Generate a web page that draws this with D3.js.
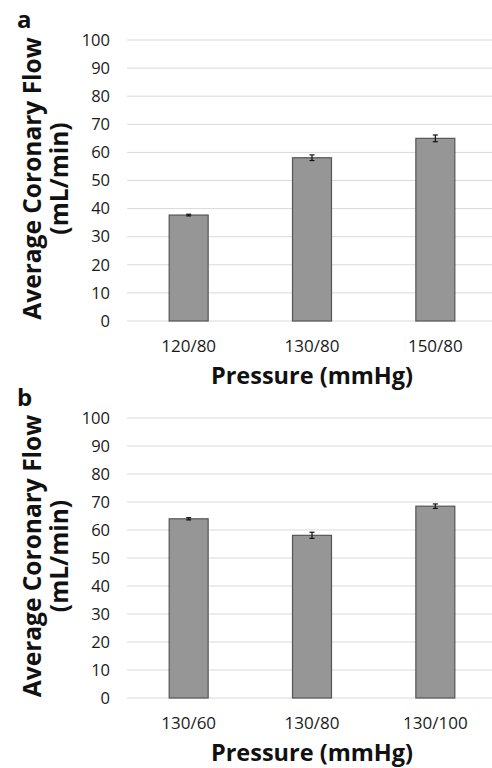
<!DOCTYPE html>
<html>
<head>
<meta charset="utf-8">
<script src="https://cdn.jsdelivr.net/npm/d3@7"></script>
<style>
  body { margin: 0; background: #fff; }
  svg { display: block; font-family: "Open Sans", sans-serif; }
</style>
</head>
<body>
<div id="canvas"></div>
<script>
// panel a
const catsA = ["120/80", "130/80", "150/80"];
const valsA = [37.7, 58.1, 65.0];
const errsA = [0.3, 1.0, 1.2];
// panel b
const catsB = ["130/60", "130/80", "130/100"];
const valsB = [64.0, 58.1, 68.5];
const errsB = [0.4, 1.1, 0.8];
const yTicks = [0, 10, 20, 30, 40, 50, 60, 70, 80, 90, 100];

const W = 492, H = 768;
const svg = d3.select("#canvas").append("svg")
  .attr("width", W)
  .attr("height", H);

function drawPanel(letter, cats, vals, errs, top, bottom) {
  const g = svg.append("g");

  const x = d3.scaleBand()
    .domain(cats)
    .range([127, 497])
    .paddingInner(0.684)
    .paddingOuter(0.342);

  const y = d3.scaleLinear()
    .domain([0, 100])
    .range([bottom, top]);

  // gridlines
  g.selectAll(".grid")
    .data(yTicks)
    .enter().append("line")
    .attr("x1", 127)
    .attr("x2", 497)
    .attr("y1", d => y(d))
    .attr("y2", d => y(d))
    .attr("stroke", "#d9d9d9")
    .attr("stroke-width", 1);

  // y tick labels
  g.selectAll(".ytick")
    .data(yTicks)
    .enter().append("text")
    .attr("x", 110)
    .attr("y", d => y(d))
    .attr("dy", "0.35em")
    .attr("text-anchor", "end")
    .style("font-size", "16.5px")
    .attr("fill", "#1a1a1a")
    .text(d => d);

  // bars
  g.selectAll(".bar")
    .data(vals)
    .enter().append("rect")
    .attr("x", (d, i) => x(cats[i]))
    .attr("y", d => y(d))
    .attr("width", x.bandwidth())
    .attr("height", d => y(0) - y(d))
    .attr("fill", "#969696")
    .attr("stroke", "#555")
    .attr("stroke-width", 1.2);

  // error bars
  const cx = i => x(cats[i]) + x.bandwidth() / 2;
  vals.forEach((v, i) => {
    g.append("line")
      .attr("x1", cx(i)).attr("x2", cx(i))
      .attr("y1", y(v + errs[i])).attr("y2", y(v - errs[i]))
      .attr("stroke", "#111").attr("stroke-width", 1.2);
    [v + errs[i], v - errs[i]].forEach(e => {
      g.append("line")
        .attr("x1", cx(i) - 2.5).attr("x2", cx(i) + 2.5)
        .attr("y1", y(e)).attr("y2", y(e))
        .attr("stroke", "#111").attr("stroke-width", 1.2);
    });
  });

  // x tick labels
  g.selectAll(".xtick")
    .data(cats)
    .enter().append("text")
    .attr("x", d => x(d) + x.bandwidth() / 2)
    .attr("y", bottom + 31)
    .attr("text-anchor", "middle")
    .style("font-size", "17px")
    .attr("fill", "#1a1a1a")
    .text(d => d);

  // x title
  g.append("text")
    .attr("x", 312)
    .attr("y", bottom + 63)
    .attr("text-anchor", "middle")
    .style("font-size", "23.5px")
    .style("font-weight", "bold")
    .attr("fill", "#111")
    .text("Pressure (mmHg)");

  // y title, two lines
  const midY = (top + bottom) / 2 - 2;
  g.append("text")
    .attr("transform", `translate(41,${midY}) rotate(-90)`)
    .attr("text-anchor", "middle")
    .style("font-size", "24.5px")
    .style("font-weight", "bold")
    .attr("fill", "#111")
    .text("Average Coronary Flow");
  g.append("text")
    .attr("transform", `translate(68,${midY}) rotate(-90)`)
    .attr("text-anchor", "middle")
    .style("font-size", "24.5px")
    .style("font-weight", "bold")
    .attr("fill", "#111")
    .text("(mL/min)");

  // panel letter
  g.append("text")
    .attr("x", 17)
    .attr("y", top - 12)
    .style("font-size", "24px")
    .style("font-weight", "bold")
    .attr("fill", "#111")
    .text(letter);
}

drawPanel("a", catsA, valsA, errsA, 40, 321);
drawPanel("b", catsB, valsB, errsB, 418, 698);
</script>
</body>
</html>
